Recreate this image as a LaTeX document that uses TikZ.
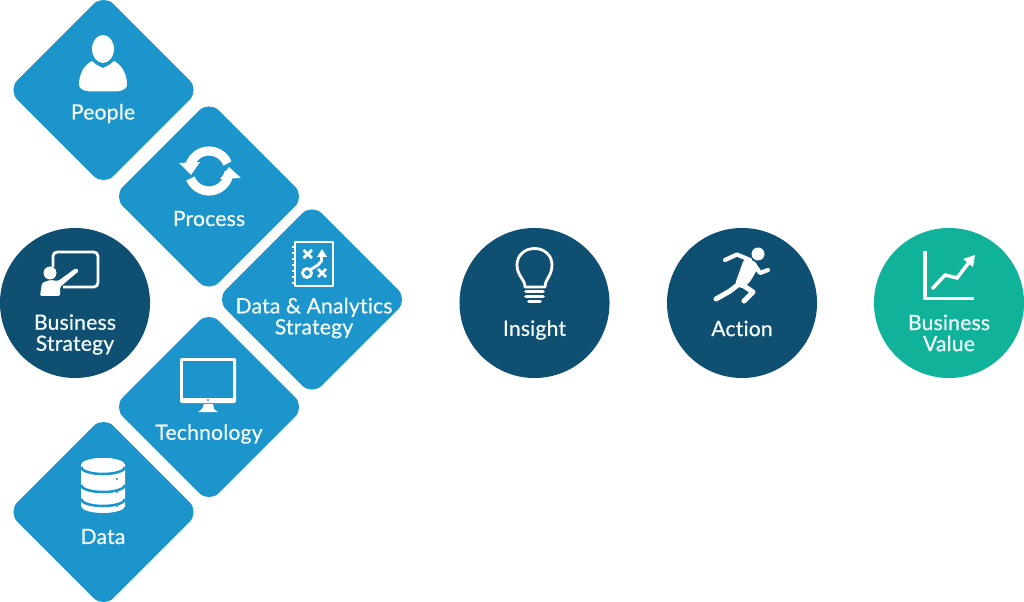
\documentclass[tikz,border=0pt]{standalone}
\usepackage{fontspec}
\setmainfont{Lato}
\newfontfamily\capfont[FakeBold=0.6, LetterSpace=1, Ligatures=NoCommon]{Lato}
\definecolor{tileblue}{HTML}{1B95CB}
\definecolor{navy}{HTML}{0F4F72}
\definecolor{teal}{HTML}{10B39A}
\definecolor{softwhite}{HTML}{F4FBFD}
\tikzset{
    tile/.style={rectangle, rounded corners=10pt, minimum size=3.39cm, inner sep=0pt, rotate=45, fill=tileblue},
    disc/.style={circle, minimum size=3.75cm, inner sep=0pt, fill=navy},
    caption/.style={text=softwhite, align=center, inner sep=0pt, font=\fontsize{15}{15}\capfont},
    icon/.style={draw=white, line width=2pt, line join=round},
    solid icon/.style={fill=white},
}
\begin{document}
\begin{tikzpicture}[x=0.025cm, y=-0.025cm]
        \useasboundingbox (0,0) rectangle (1024,602);
        % Diamonds
        \node[tile] (people) at (103.5,90) {};
        \node[tile] (process) at (209,196.5) {};
        \node[tile] (strategy) at (312,299.5) {};
        \node[tile] (technology) at (209,407) {};
        \node[tile] (data) at (103.5,512) {};
        % Circles
        \node[disc] (business) at (75,303) {};
        \node[disc] (insight) at (534.5,303) {};
        \node[disc] (action) at (742,303) {};
        \node[disc, fill=teal] (value) at (949,303) {};
        % Labels
        \node[caption] (peoplelabel) at (103,113.5) {People};
        \node[caption] (processlabel) at (209,218.5) {Process};
        \node[caption] (strategylabel) at (314,318) {Data \& Analytics\\Strategy};
        \node[caption] (technologylabel) at (209,434) {Technology};
        \node[caption] (datalabel) at (103,536.5) {Data};
        \node[caption] (businesslabel) at (75,334.5) {Business\\Strategy};
        \node[caption] (insightlabel) at (534.5,330) {Insight};
        \node[caption] (actionlabel) at (742,328.5) {Action};
        \node[caption] (valuelabel) at (949,333) {Business\\Value};
        % Person
        \fill[solid icon] (103,49) ellipse (11 and 14);
        \fill[solid icon] (92,61) .. controls (96,65) and (99,66) .. (103,68) .. controls (107,66) and (110,65) .. (114,61)
            .. controls (122,65) and (127,74) .. (127,85) .. controls (127,89) and (122,91) .. (116,91.5)
            -- (90,91.5) .. controls (84,91) and (79,89) .. (79,85) .. controls (79,74) and (84,65) .. (92,61) -- cycle;
        % Cycle
        \draw[white, line width=6.5pt] (209,171) ++(-165:20) arc[start angle=-165, end angle=-22, radius=20];
        \draw[white, line width=6.5pt] (209,171) ++(2:20) arc[start angle=2, end angle=158, radius=20];
        \fill[solid icon] (179,163) -- (200,162) -- (191,175) -- cycle;
        \fill[solid icon] (241,178) -- (220,179) -- (229,167) -- cycle;
        % Notebook
        \draw[icon] (295,242) rectangle (333,286);
        \foreach \ringy in {247,253,259,265,271,277,283}
            \draw[white, line width=1.5pt] (292,\ringy) -- (295,\ringy);
        \draw[icon] (303.5,250) -- (312,258) (312,250) -- (303.5,258);
        \draw[icon] (318,269) -- (326,277) (326,269) -- (318,277);
        \draw[icon] (307,273) circle[radius=4.5];
        \draw[icon] (310,270) -- (318,265) -- (321.5,261) -- (321.5,254);
        \fill[solid icon] (322,249) -- (327,257) -- (317,257) -- cycle;
        % Monitor
        \fill[solid icon, rounded corners=1pt] (180,358) rectangle (236,403);
        \fill[tileblue] (183,361) rectangle (233,397.5);
        \fill[tileblue] (208,400) circle[radius=1.2];
        \fill[solid icon] (204,404) -- (213,404) -- (214,409) -- (218,412) -- (198,412) -- (202,409) -- cycle;
        % Database
        \fill[solid icon] (81,465) arc[start angle=180, end angle=360, x radius=22, y radius=7]
            -- (125,506) arc[start angle=0, end angle=180, x radius=22, y radius=7] -- cycle;
        \fill[solid icon] (103,465) ellipse (22 and 7);
        \foreach \bandy in {467,485,499}
            \draw[tileblue, line width=1.8pt] (81,\bandy) arc[start angle=180, end angle=0, x radius=22, y radius=7];
        \foreach \doty in {479,492,506}
            \fill[tileblue] (117,\doty) circle[radius=1.2];
        % Board and teacher
        \draw[icon, rounded corners=3pt] (53,267) -- (53,252) -- (98,252) -- (98,287) -- (63,287);
        \fill[solid icon] (50,273) circle[radius=6.5];
        \fill[solid icon, rounded corners=1pt] (40,296) -- (42,283) -- (50,280) -- (58,281) -- (76,268) -- (79,271) -- (60,287) -- (60,296) -- cycle;
        % Bulb
        \draw[icon] (525,287) .. controls (525,279) and (517,276) .. (517,265)
            .. controls (517,255) and (525,248.5) .. (534.5,248.5)
            .. controls (544,248.5) and (552,255) .. (552,265)
            .. controls (552,276) and (545,279) .. (545,287) -- cycle;
        \draw[white, line width=2.6pt, line cap=round] (526,291.5) -- (543,291.5);
        \draw[white, line width=2.6pt, line cap=round] (526,296.5) -- (543,296.5);
        \draw[white, line width=2.6pt, line cap=round] (529,301.5) -- (540,301.5);
        % Runner
        \fill[solid icon] (758,254) circle[radius=6.5];
        \draw[white, line width=3pt, line cap=round, line join=round] (725,260) -- (737,254.5) -- (750,260);
        \draw[white, line width=3pt, line cap=round, line join=round] (754,264) -- (760,273) -- (768,270);
        \fill[solid icon, rounded corners=2pt] (744,259) -- (755,261) -- (758,268) -- (750,282) -- (742,289) -- (735,284) -- cycle;
        \draw[white, line width=3.6pt, line cap=round, line join=round] (739,284) -- (730,291) -- (716,299);
        \draw[white, line width=3.6pt, line cap=round, line join=round] (741,284) -- (753,292) -- (744,301);
        % Chart
        \draw[white, line width=2.5pt, line join=miter] (925,251) -- (925,298.5) -- (974,298.5);
        \draw[white, line width=2.5pt, line join=miter] (932,289) -- (945,275) -- (957,278) -- (970,261);
        \fill[solid icon] (975,255) -- (973,267) -- (963,259) -- cycle;
\end{tikzpicture}
\end{document}
